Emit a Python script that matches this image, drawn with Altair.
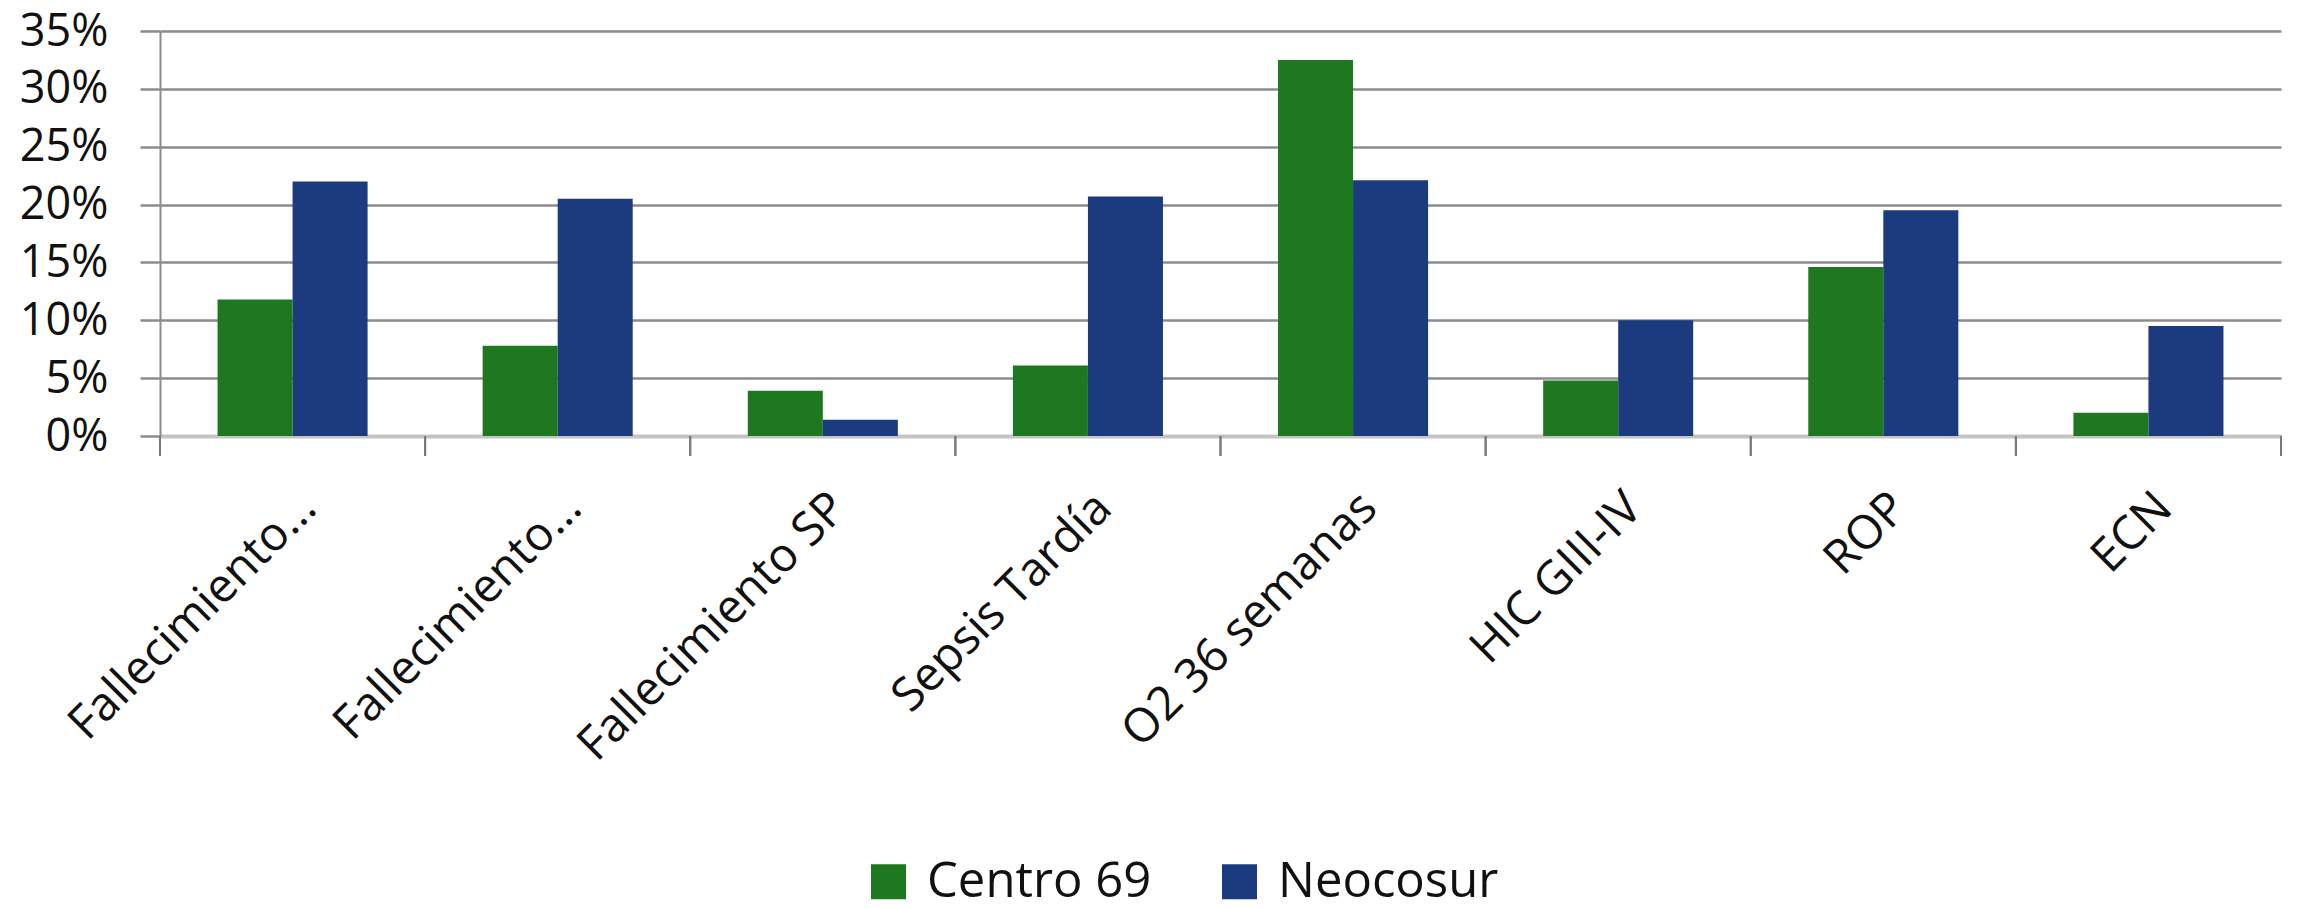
import json
import altair as alt
import pandas as pd

# ---- data ----
categories = ["Fallecimiento…", "Fallecimiento…", "Fallecimiento SP", "Sepsis Tardía",
              "O2 36 semanas", "HIC GIII-IV", "ROP", "ECN"]
series = ["Centro 69", "Neocosur"]
centro_69 = [0.118, 0.078, 0.039, 0.061, 0.325, 0.048, 0.146, 0.020]
neocosur = [0.220, 0.205, 0.014, 0.207, 0.221, 0.100, 0.195, 0.095]
y_ticks = [0.0, 0.05, 0.10, 0.15, 0.20, 0.25, 0.30, 0.35]
colors = ["#1E7820", "#1C3B7E"]

rows = []
for i, c in enumerate(categories):
    rows.append({"idx": i, "cat": c, "serie": series[0], "valor": centro_69[i]})
    rows.append({"idx": i, "cat": c, "serie": series[1], "valor": neocosur[i]})
df = pd.DataFrame(rows)
edges = pd.DataFrame({"idx": list(range(len(categories)))})

W, H = 2121, 405
FONT = "Open Sans"
label_expr = json.dumps(categories, ensure_ascii=False) + "[datum.value]"

x_axis = alt.Axis(
    title=None, labelExpr=label_expr, labelAngle=-45, labelAlign="right",
    labelBaseline="top", labelPadding=48, labelOffset=0, ticks=False,
    domain=True, domainColor="#C4C4C4", domainWidth=4, grid=False,
    labelFont=FONT, labelFontSize=47, labelColor="#111111", labelLimit=0,
    labelOverlap=False,
)
x_scale = alt.Scale(paddingInner=0, paddingOuter=0)

bars = alt.Chart(df).mark_bar().encode(
    x=alt.X("idx:O", scale=x_scale, axis=x_axis),
    xOffset=alt.XOffset("serie:N", sort=series,
                        scale=alt.Scale(paddingInner=0, paddingOuter=0.767)),
    y=alt.Y("valor:Q", scale=alt.Scale(domain=[0, 0.35], nice=False),
            axis=alt.Axis(values=y_ticks, format=".0%", title=None, grid=True,
                          gridColor="#8C8C8C", gridWidth=2.5,
                          domain=True, domainColor="#8C8C8C", domainWidth=2,
                          ticks=True, tickSize=20, tickColor="#8C8C8C", tickWidth=2.5,
                          labelPadding=32, labelFont=FONT, labelFontSize=45,
                          labelColor="#111111", labelLimit=0)),
    color=alt.Color("serie:N", sort=series,
                    scale=alt.Scale(domain=series, range=colors),
                    legend=alt.Legend(title=None, orient="none", legendX=704, legendY=826,
                                      direction="horizontal", symbolType="square",
                                      symbolSize=1225, symbolStrokeWidth=0,
                                      symbolOpacity=1, labelLimit=0,
                                      labelFont=FONT, labelFontSize=49, labelOffset=14,
                                      columnPadding=63, padding=0, labelColor="#111111")),
)

tick_left = alt.Chart(edges).mark_rule(color="#7A7A7A", strokeWidth=2).encode(
    x=alt.X("idx:O", bandPosition=0, scale=x_scale, axis=x_axis),
    y=alt.value(H), y2=alt.value(H + 20),
)
tick_right = alt.Chart(edges).mark_rule(color="#7A7A7A", strokeWidth=2).encode(
    x=alt.X("idx:O", bandPosition=1, scale=x_scale, axis=x_axis),
    y=alt.value(H), y2=alt.value(H + 20),
)

chart = alt.layer(bars, tick_left, tick_right).properties(
    width=W, height=H, autosize="none",
    padding={"left": 160, "top": 31, "right": 22, "bottom": 474},
    background="white",
).configure_view(stroke=None)

chart.save("out.html", embed_options={"renderer": "svg", "actions": False})
